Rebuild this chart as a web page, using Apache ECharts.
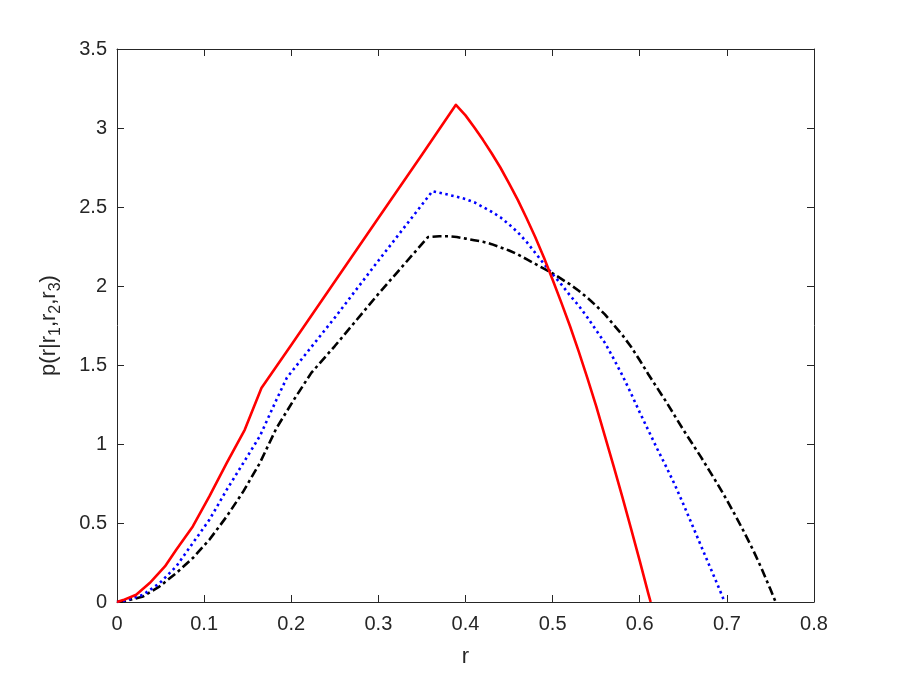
<!DOCTYPE html>
<html><head><meta charset="utf-8">
<script src="https://cdn.jsdelivr.net/npm/echarts@6/dist/echarts.min.js"></script>
<style>html,body{margin:0;padding:0;background:#fff}#c{width:900px;height:675px}</style>
</head><body><div id="c"></div>
<script>
// Red (solid)
var redR = [0,0.007,0.022,0.0375,0.055,0.068,0.087,0.106,0.126,0.1466,0.1658,0.20,0.25,0.30,0.35,0.389,0.40,0.41,0.42,0.43,0.44,0.45,0.46,0.47,0.48,0.49,0.50,0.51,0.52,0.53,0.54,0.55,0.56,0.57,0.58,0.59,0.60,0.61,0.6125];
var redP = [0,0.012,0.046,0.12,0.225,0.331,0.478,0.668,0.88,1.09,1.354,1.626,2.028,2.43,2.83,3.147,3.08,3.005,2.925,2.84,2.75,2.65,2.545,2.43,2.31,2.18,2.04,1.895,1.745,1.585,1.415,1.24,1.05,0.86,0.665,0.465,0.26,0.05,0];
// Blue (dotted)
var blueR = [0,0.01,0.03,0.049,0.068,0.087,0.106,0.126,0.145,0.164,0.183,0.195,0.25,0.30,0.362,0.37,0.38,0.39,0.40,0.41,0.42,0.43,0.44,0.45,0.46,0.47,0.48,0.49,0.50,0.51,0.52,0.53,0.54,0.55,0.56,0.57,0.58,0.59,0.60,0.61,0.62,0.63,0.64,0.65,0.66,0.67,0.68,0.69,0.6975];
var blueP = [0,0.01,0.046,0.12,0.225,0.373,0.52,0.711,0.88,1.05,1.28,1.42,1.80,2.16,2.60,2.59,2.578,2.565,2.55,2.53,2.50,2.47,2.435,2.39,2.34,2.28,2.21,2.14,2.075,2.01,1.94,1.875,1.80,1.72,1.64,1.54,1.435,1.32,1.20,1.085,0.97,0.86,0.745,0.62,0.49,0.36,0.23,0.10,0];
// Black (dash-dot)
var blackR = [0,0.01,0.03,0.049,0.068,0.087,0.106,0.126,0.145,0.164,0.183,0.203,0.223,0.25,0.30,0.357,0.37,0.38,0.39,0.40,0.41,0.42,0.43,0.44,0.45,0.46,0.47,0.48,0.49,0.50,0.51,0.52,0.53,0.54,0.55,0.56,0.57,0.58,0.59,0.60,0.61,0.62,0.63,0.64,0.65,0.66,0.67,0.68,0.69,0.70,0.71,0.72,0.73,0.74,0.75,0.756];
var blackP = [0,0.006,0.035,0.099,0.183,0.278,0.394,0.542,0.70,0.88,1.10,1.28,1.45,1.62,1.95,2.31,2.315,2.315,2.31,2.30,2.29,2.28,2.265,2.245,2.225,2.20,2.17,2.14,2.11,2.08,2.045,2.01,1.97,1.925,1.875,1.82,1.755,1.69,1.615,1.53,1.44,1.355,1.27,1.18,1.09,1.005,0.92,0.83,0.74,0.645,0.545,0.44,0.33,0.21,0.08,0];

var xTicks = [0,0.1,0.2,0.3,0.4,0.5,0.6,0.7,0.8];
var yTicks = [0,0.5,1,1.5,2,2.5,3,3.5];

function pairs(a,b){return a.map(function(v,i){return [v,b[i]];});}

var axisCol = '#262626';
var font = 'Liberation Sans, Arial, sans-serif';
var chart = echarts.init(document.getElementById('c'), null, {renderer:'canvas'});
function xa(pos, show){
  return {type:'value', position:pos, min:xTicks[0], max:xTicks[xTicks.length-1], interval:0.1,
    name: show ? 'r' : '', nameLocation:'middle', nameGap:44,
    nameTextStyle:{color:axisCol, fontSize:22, fontFamily:font},
    axisLine:{show:true, onZero:false, lineStyle:{color:axisCol, width:1}},
    axisTick:{show:true, inside:true, length:7, lineStyle:{color:axisCol}},
    axisLabel:{show:show, color:axisCol, fontSize:20, fontFamily:font, margin:12,
      formatter:function(v){return String(Math.round(v*10)/10);}},
    splitLine:{show:false}};
}
function ya(pos, show){
  return {type:'value', position:pos, min:yTicks[0], max:yTicks[yTicks.length-1], interval:0.5,
    name: show ? '{n|p(r|r}{s|1}{n|,r}{s|2}{n|,r}{s|3}{n|)}' : '',
    nameLocation:'middle', nameGap:54, nameRotate:90,
    nameTextStyle:{color:axisCol, fontFamily:font,
      rich:{n:{fontSize:22, lineHeight:28, color:axisCol, fontFamily:font},
            s:{fontSize:16, lineHeight:16, padding:[13,0,0,0], color:axisCol, fontFamily:font}}},
    axisLine:{show:true, onZero:false, lineStyle:{color:axisCol, width:1}},
    axisTick:{show:true, inside:true, length:7, lineStyle:{color:axisCol}},
    axisLabel:{show:show, color:axisCol, fontSize:20, fontFamily:font, margin:10,
      formatter:function(v){return String(Math.round(v*10)/10);}},
    splitLine:{show:false}};
}
chart.setOption({
  animation:false,
  backgroundColor:'#fff',
  grid:{left:117, right:86, top:49, bottom:73, containLabel:false},
  xAxis:[xa('bottom', true), xa('top', false)],
  yAxis:[ya('left', true), ya('right', false)],
  series:[
    {type:'line', data:pairs(redR, redP), showSymbol:false, symbol:'none',
     lineStyle:{color:'#ff0000', width:2.6, type:'solid', join:'round'}, z:3},
    {type:'line', data:pairs(blueR, blueP), showSymbol:false, symbol:'none',
     lineStyle:{color:'#0000ff', width:2.6, type:[2.5,3.5], cap:'butt'}, z:2},
    {type:'line', data:pairs(blackR, blackP), showSymbol:false, symbol:'none',
     lineStyle:{color:'#000000', width:2.6, type:[9,3.5,3,3.5], cap:'butt'}, z:1}
  ]
});
</script></body></html>
